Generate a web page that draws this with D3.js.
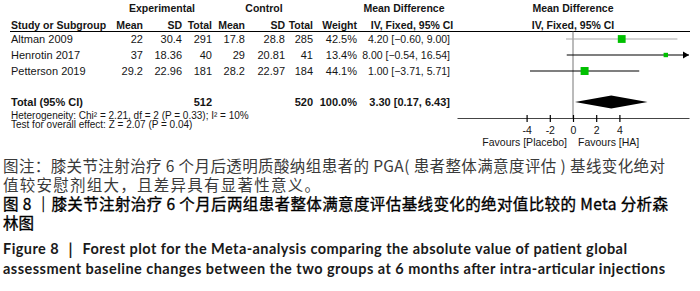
<!DOCTYPE html>
<html>
<head>
<meta charset="utf-8">
<script src="https://cdn.jsdelivr.net/npm/d3@7"></script>
<style>
  html, body { margin: 0; padding: 0; background: #fff; }
  svg { display: block; }
</style>
</head>
<body>
<div id="chart"></div>
<script>
// Study-level data
const studies = ['Altman 2009', 'Henrotin 2017', 'Petterson 2019'];
const expMean = ['22', '37', '29.2'];
const expSD = ['30.4', '18.36', '22.96'];
const expN = [291, 40, 181];
const ctlMean = ['17.8', '29', '28.2'];
const ctlSD = ['28.8', '20.81', '22.97'];
const ctlN = [285, 41, 184];
const weights = [42.5, 13.4, 44.1];
const md = [4.20, 8.00, 1.00];
const mdLo = [-0.60, -0.54, -3.71];
const mdHi = [9.00, 16.54, 5.71];

// Pooled estimate
const totalExpN = 512;
const totalCtlN = 520;
const totalWeight = 100.0;
const totalMD = 3.30, totalLo = 0.17, totalHi = 6.43;

const xTicks = [-4, -2, 0, 2, 4];
const xDomain = [-10, 10];

const captionLines = [
  '图注：膝关节注射治疗 6 个月后透明质酸纳组患者的 PGA( 患者整体满意度评估 ) 基线变化绝对',
  '值较安慰剂组大，且差异具有显著性意义。',
  '图 8 ｜膝关节注射治疗 6 个月后两组患者整体满意度评估基线变化的绝对值比较的 Meta 分析森',
  '林图'
];
const captionEn = [
  'Figure 8 ｜ Forest plot for the Meta-analysis comparing the absolute value of patient global',
  'assessment baseline changes between the two groups at 6 months after intra-articular injections'
];

const W = 700, H = 291;
const svg = d3.select('#chart').append('svg')
  .attr('width', W).attr('height', H);

const fontChart = 'Liberation Sans, Arial, sans-serif';
const ink = '#151515';

const x = d3.scaleLinear().domain(xDomain).range([457, 689]);
const y = d3.scalePoint().domain(studies).range([39, 71]);
const sq = d3.scaleSqrt().domain([0, 100]).range([0, 12]);

const fmt2 = d3.format('.2f');
const ciText = (m, l, h) => `${fmt2(m)} [${fmt2(l)}, ${fmt2(h)}]`;

const g = svg.append('g')
  .attr('font-family', fontChart)
  .attr('font-size', 11)
  .attr('fill', ink);

// column right edges
const cols = [
  { key: expMean, x: 143, head: 'Mean' },
  { key: expSD, x: 182, head: 'SD' },
  { key: expN, x: 212, head: 'Total' },
  { key: ctlMean, x: 245, head: 'Mean' },
  { key: ctlSD, x: 285, head: 'SD' },
  { key: ctlN, x: 313, head: 'Total' },
  { key: weights.map(w => w.toFixed(1) + '%'), x: 357, head: 'Weight' }
];

const head = (t, xx, yy, anchor) => g.append('text')
  .attr('x', xx).attr('y', yy).attr('text-anchor', anchor)
  .attr('font-weight', 'bold').attr('font-size', 10.5).text(t);

// Headers
head('Experimental', 162, 12, 'middle');
head('Control', 264, 12, 'middle');
head('Mean Difference', 404, 12, 'middle');
head('Mean Difference', x(0), 12, 'middle');
head('Study or Subgroup', 11, 29, 'start');
cols.forEach(c => head(c.head, c.x, 29, 'end'));
head('IV, Fixed, 95% CI', 412, 29, 'middle');
head('IV, Fixed, 95% CI', x(0), 29, 'middle');

g.append('line')
  .attr('x1', 10).attr('x2', 690).attr('y1', 31.5).attr('y2', 31.5)
  .attr('stroke', '#000').attr('stroke-width', 1.2);

// Study rows
studies.forEach((s, i) => {
  const yy = y(s) + 4;
  g.append('text').attr('x', 11).attr('y', yy).text(s);
  cols.forEach(c => {
    g.append('text').attr('x', c.x).attr('y', yy).attr('text-anchor', 'end').text(c.key[i]);
  });
  g.append('text').attr('x', 450).attr('y', yy).attr('text-anchor', 'end')
    .attr('font-size', 10.5)
    .text(ciText(md[i], mdLo[i], mdHi[i]));
});

// Total row
const yTot = 102;
const tot = (t, xx, anchor) => g.append('text')
  .attr('x', xx).attr('y', yTot + 4).attr('text-anchor', anchor)
  .attr('font-weight', 'bold').text(t);
tot('Total (95% CI)', 11, 'start');
tot(totalExpN, 212, 'end');
tot(totalCtlN, 313, 'end');
tot(totalWeight.toFixed(1) + '%', 357, 'end');
tot(ciText(totalMD, totalLo, totalHi), 450, 'end');

g.append('text').attr('x', 11).attr('y', 118.5).attr('font-size', 10)
  .text('Heterogeneity: Chi² = 2.21, df = 2 (P = 0.33); I² = 10%');
g.append('text').attr('x', 11).attr('y', 128).attr('font-size', 10)
  .text('Test for overall effect: Z = 2.07 (P = 0.04)');

// Plot: zero line
const axisY = 118;
g.append('line')
  .attr('x1', x(0)).attr('x2', x(0)).attr('y1', 31.5).attr('y2', axisY)
  .attr('stroke', '#777').attr('stroke-width', 1);

// CI lines, squares
studies.forEach((s, i) => {
  const yy = y(s);
  const x2 = x(Math.min(mdHi[i], xDomain[1]));
  g.append('line')
    .attr('x1', x(Math.max(mdLo[i], xDomain[0]))).attr('x2', x2)
    .attr('y1', yy).attr('y2', yy)
    .attr('stroke', i === 0 ? '#aaa' : '#000').attr('stroke-width', 1.2);
  if (mdHi[i] > xDomain[1]) {
    g.append('path')
      .attr('d', `M${x2},${yy} L${x2 - 6},${yy - 3.5} L${x2 - 6},${yy + 3.5} Z`)
      .attr('fill', '#000');
  }
  const s2 = sq(weights[i]);
  g.append('rect')
    .attr('x', x(md[i]) - s2 / 2).attr('y', yy - s2 / 2)
    .attr('width', s2).attr('height', s2)
    .attr('fill', '#00c000');
});

// Diamond
g.append('path')
  .attr('d', `M${x(totalLo)},${yTot} L${x(totalMD)},${yTot - 6.5} L${x(totalHi)},${yTot} L${x(totalMD)},${yTot + 6.5} Z`)
  .attr('fill', '#000');

// Axis
const axis = g.append('g')
  .attr('transform', `translate(0,${axisY})`)
  .call(d3.axisBottom(x).tickValues(xTicks).tickFormat(d => String(d))
    .tickSize(4).tickSizeOuter(0).tickPadding(5));
axis.select('.domain').attr('stroke', '#444');
axis.selectAll('.tick line').attr('y1', -3).attr('stroke', '#000').attr('stroke-width', 1.2);
axis.selectAll('.tick text')
  .attr('font-family', fontChart).attr('font-size', 10.5).attr('fill', ink);

g.append('text').attr('x', 567).attr('y', 146).attr('font-size', 10.5)
  .attr('text-anchor', 'end').text('Favours [Placebo]');
g.append('text').attr('x', 578).attr('y', 146).attr('font-size', 10.5)
  .text('Favours [HA]');

// Caption
const cap = svg.append('g').attr('font-family', '"Noto Sans CJK SC", sans-serif');
const capY = [172, 191, 210, 229];
const capW = [662, 317, 665, null];
captionLines.forEach((t, i) => {
  const tx = cap.append('text')
    .attr('x', 3).attr('y', capY[i])
    .attr('font-size', 15.5)
    .attr('fill', i < 2 ? '#3a3a3a' : '#000')
    .attr('stroke', i < 2 ? 'none' : '#000')
    .attr('stroke-width', 0.35)
    .text(t);
  if (capW[i]) tx.attr('textLength', capW[i]).attr('lengthAdjust', 'spacing');
});

const capEnY = [254, 274];
const capEnW = [624, 662];
captionEn.forEach((t, i) => {
  cap.append('text')
    .attr('x', 3).attr('y', capEnY[i])
    .attr('font-family', 'Lato, "Open Sans", sans-serif')
    .attr('font-size', 14.5)
    .attr('font-weight', 'bold')
    .attr('fill', '#1a1a1a')
    .attr('textLength', capEnW[i]).attr('lengthAdjust', 'spacing')
    .text(t);
});
</script>
</body>
</html>
